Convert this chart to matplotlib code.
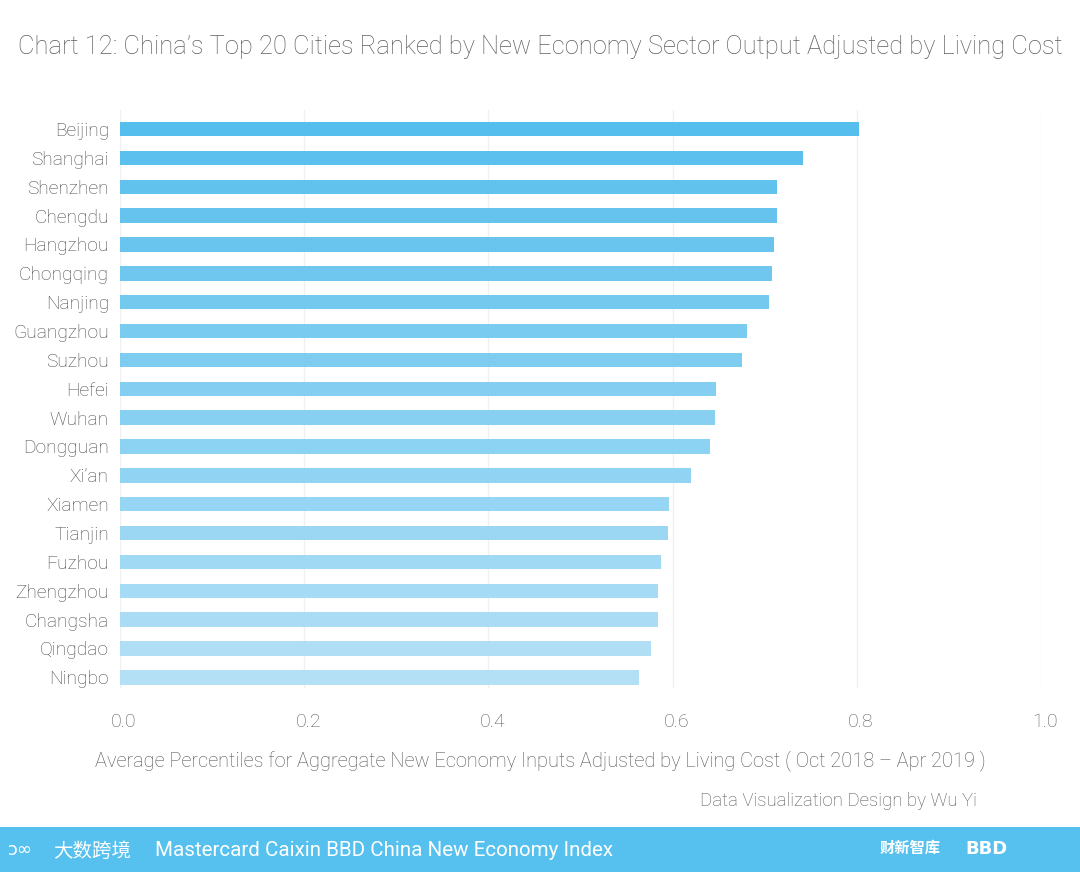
import matplotlib
matplotlib.use("Agg")
import matplotlib.pyplot as plt
import matplotlib.transforms as mtransforms
from matplotlib.patches import Rectangle
import numpy as np

plt.rcParams['font.family'] = ['Roboto', 'Noto Sans CJK SC', 'DejaVu Sans']

cities = ["Beijing", "Shanghai", "Shenzhen", "Chengdu", "Hangzhou", "Chongqing",
          "Nanjing", "Guangzhou", "Suzhou", "Hefei", "Wuhan", "Dongguan", "Xi\u2019an",
          "Xiamen", "Tianjin", "Fuzhou", "Zhengzhou", "Changsha", "Qingdao", "Ningbo"]
values = [0.802, 0.742, 0.713, 0.713, 0.710, 0.708, 0.705, 0.681, 0.675, 0.647,
          0.646, 0.641, 0.620, 0.596, 0.595, 0.587, 0.584, 0.584, 0.577, 0.564]
xticks = [0.0, 0.2, 0.4, 0.6, 0.8, 1.0]
xtick_labels = ["0.0", "0.2", "0.4", "0.6", "0.8", "1.0"]

title = "Chart 12: China\u2019s Top 20 Cities Ranked by New Economy Sector Output Adjusted by Living Cost"
xlabel = "Average Percentiles for Aggregate New Economy Inputs Adjusted by Living Cost ( Oct 2018 \u2013 Apr 2019 )"
credit = "Data Visualization Design by Wu Yi"
footer = "Mastercard Caixin BBD China New Economy Index"

W, H = 1080, 872
fig = plt.figure(figsize=(W/100, H/100), dpi=100)
fig.patch.set_facecolor('white')

# axes: x 120..1041, y 110..688 (pixels from top)
ax = fig.add_axes([120/W, 1 - 688/H, (1041-120)/W, (688-110)/H])
n = len(cities)
top_c = np.array([86, 190, 236]) / 255
bot_c = np.array([180, 224, 246]) / 255
colors = [tuple(top_c + (bot_c - top_c) * i / (n - 1)) for i in range(n)]
ypos = np.arange(n)
ax.barh(ypos, values, height=0.5, color=colors, zorder=2)
ax.set_ylim(n - 1 + 0.37, -0.66)
ax.set_xlim(0, 1.0)
ax.set_yticks(ypos)
ax.set_yticklabels(cities, fontsize=13.8, color='#4a4a4a', fontweight='light')
ax.set_xticks(xticks)
ax.set_xticklabels(xtick_labels, fontsize=14, color='#5a5a5a', fontweight='light')
ax.tick_params(axis='both', length=0)
ax.tick_params(axis='y', pad=8)
ax.tick_params(axis='x', pad=18)
shift = mtransforms.ScaledTranslation(4/100, 0, fig.dpi_scale_trans)
for lab in ax.get_xticklabels():
    lab.set_transform(lab.get_transform() + shift)
for s in ax.spines.values():
    s.set_visible(False)
ax.grid(axis='x', color='#f0f0f0', linewidth=1, zorder=0)
ax.set_axisbelow(True)

fig.text(540/W, 1 - 47/H, title, ha='center', va='center', fontsize=18.35,
         color='#5e5e5e', fontweight='light')
fig.text(540/W, 1 - 761/H, xlabel, ha='center', va='center', fontsize=14.4,
         color='#555555', fontweight='light')
fig.text(977/W, 1 - 801/H, credit, ha='right', va='center', fontsize=13.4,
         color='#555555', fontweight='light')

# footer band
fig.patches.append(Rectangle((0, 0), 1, 45/H, transform=fig.transFigure,
                             facecolor='#56c1ee', edgecolor='none', zorder=0))
fig.text(155/W, 1 - 850/H, footer, ha='left', va='center', fontsize=14.8, color='white')
fig.text(8/W, 1 - 850/H, "\u2184\u221e", ha='left', va='center', fontsize=13, color='white',
         family=['DejaVu Sans'])
fig.text(53/W, 1 - 851/H, "\u5927\u6570\u8de8\u5883", ha='left', va='center', fontsize=14,
         color='white', family=['Noto Sans CJK SC', 'DejaVu Sans'])
fig.text(880/W, 1 - 848/H, "\u8d22\u65b0\u667a\u5e93", ha='left', va='center', fontsize=11,
         color='white', fontweight='bold', family=['Noto Sans CJK SC', 'DejaVu Sans'])
fig.text(965/W, 1 - 849/H, "BBD", ha='left', va='center', fontsize=13,
         color='white', fontweight='bold', family=['DejaVu Sans'])

fig.savefig("out.png", dpi=100, facecolor='white')
